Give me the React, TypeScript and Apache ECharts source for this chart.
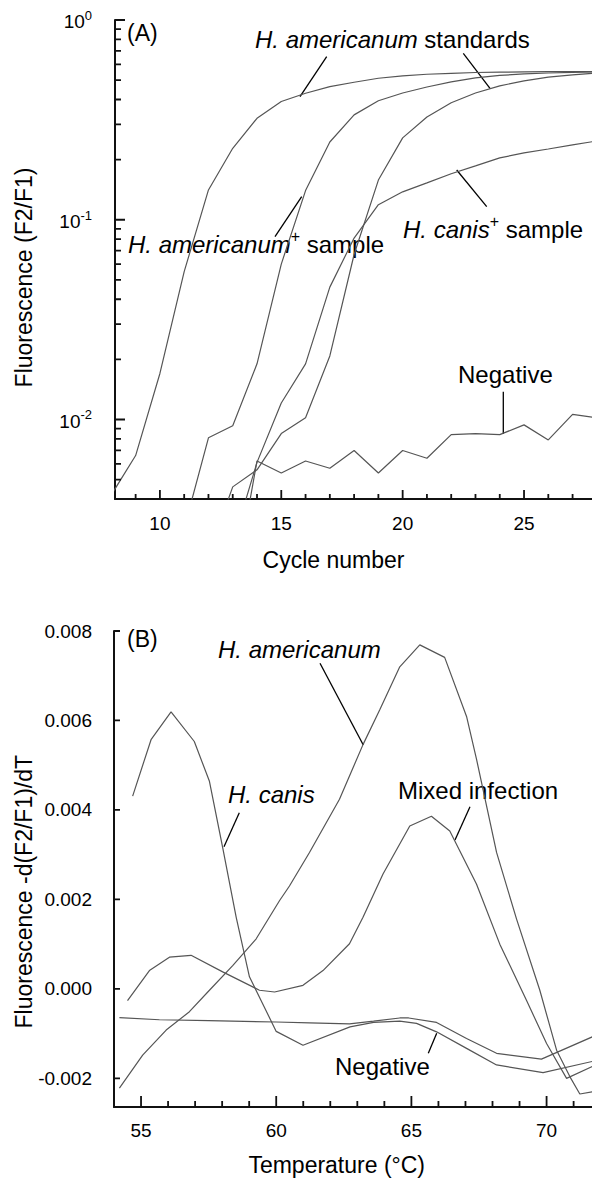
import React, { useEffect, useRef } from "react";
import * as echarts from "echarts";

const FONT = "'Liberation Sans', Arial, Helvetica, sans-serif";

// ---------- Panel A: amplification curves ----------
const cycles = [8, 9, 10, 11, 12, 13, 14, 15, 16, 17, 18, 19, 20, 21, 22, 23, 24, 25, 26, 27, 28];
const standardEarly = [0.0042, 0.0066, 0.017, 0.055, 0.141, 0.228, 0.322, 0.391, 0.43, 0.464, 0.488, 0.511, 0.525, 0.535, 0.541, 0.546, 0.548, 0.55, 0.551, 0.552, 0.552];
const americanumSample = [null, null, null, 0.00285, 0.0081, 0.0093, 0.019, 0.06, 0.14, 0.245, 0.335, 0.394, 0.431, 0.462, 0.49, 0.513, 0.528, 0.537, 0.543, 0.547, 0.55];
const standardLate = [null, null, null, null, 0.0021, 0.0046, 0.0056, 0.0085, 0.0102, 0.0208, 0.067, 0.158, 0.257, 0.327, 0.385, 0.431, 0.468, 0.496, 0.518, 0.531, 0.543];
const canisSample = [null, null, null, null, null, 0.0024, 0.0061, 0.0121, 0.019, 0.046, 0.081, 0.119, 0.138, 0.153, 0.17, 0.186, 0.204, 0.216, 0.226, 0.237, 0.248];
const negativeA = [null, null, null, null, null, 0.0013, 0.0062, 0.0054, 0.0062, 0.0057, 0.007, 0.0054, 0.007, 0.0064, 0.0084, 0.0085, 0.0084, 0.0094, 0.0079, 0.0106, 0.0102];
const xTicksA = [10, 15, 20, 25];
const xMinorTicksA = [9, 11, 12, 13, 14, 16, 17, 18, 19, 21, 22, 23, 24, 26, 27];
const yTicksA = [0.01, 0.1, 1];
const yMinorTicksA = [0.005, 0.006, 0.007, 0.008, 0.009, 0.02, 0.03, 0.04, 0.05, 0.06, 0.07, 0.08, 0.09, 0.2, 0.3, 0.4, 0.5, 0.6, 0.7, 0.8, 0.9];

// ---------- Panel B: melting curves ----------
const amerT = [54.2, 55.06, 55.93, 56.79, 57.53, 58.39, 59.26, 60.12, 60.49, 61.23, 62.34, 63.21, 63.83, 64.57, 65.31, 66.23, 67.04, 67.41, 68.15, 68.89, 69.75, 70.37, 70.86, 71.23, 71.7];
const amerV = [-0.00222, -0.00148, -0.00092, -0.00051, -0.00003, 0.00052, 0.00112, 0.00197, 0.0023, 0.00305, 0.00424, 0.00546, 0.00624, 0.0072, 0.00769, 0.00741, 0.00609, 0.00513, 0.00305, 0.00156, -0.00003, -0.00137, -0.00196, -0.00235, -0.0023];
const canisT = [54.69, 55.37, 56.11, 56.97, 57.53, 58.02, 58.52, 59.01, 60.0, 60.99, 62.73, 63.6, 64.57, 65.19, 65.93, 67.04, 68.15, 69.87, 71.7];
const canisV = [0.00431, 0.00557, 0.00619, 0.00553, 0.00464, 0.00316, 0.0016, 0.00027, -0.00095, -0.00126, -0.00085, -0.00075, -0.00072, -0.00077, -0.00096, -0.00133, -0.0017, -0.00187, -0.00162];
const mixedT = [54.5, 55.31, 56.05, 56.85, 58.02, 59.38, 59.94, 60.99, 61.73, 62.71, 63.21, 63.95, 64.94, 65.74, 66.42, 67.41, 68.27, 69.26, 70.0, 70.74, 71.7];
const mixedV = [-0.00026, 0.00041, 0.00071, 0.00075, 0.00038, -0.00003, -0.00007, 0.00008, 0.00041, 0.00101, 0.0016, 0.00257, 0.00364, 0.00386, 0.00353, 0.00234, 0.001, -0.00026, -0.00122, -0.002, -0.00173];
const negT = [54.2, 55.68, 57.5, 60.0, 61.23, 62.71, 63.6, 64.57, 64.9, 65.93, 67.04, 68.15, 69.81, 71.7];
const negV = [-0.00064, -0.00069, -0.00071, -0.00074, -0.00076, -0.00078, -0.00072, -0.00065, -0.00065, -0.00075, -0.00111, -0.00144, -0.00157, -0.00107];
const xTicksB = [55, 60, 65, 70];
const xMinorTicksB = [56, 57, 58, 59, 61, 62, 63, 64, 66, 67, 68, 69, 71];
const yTicksB = [-0.002, 0, 0.002, 0.004, 0.006, 0.008];

// axis ranges and grid boxes
const A_X = [8.15, 27.8];
const A_Y = [0.004, 1];
const B_X = [54, 71.68];
const B_Y = [-0.00264, 0.008];
const GRID_A = { left: 115, top: 20, width: 477, height: 479 };
const GRID_B = { left: 114, top: 631, width: 478, height: 476 };

const near = (a: number, b: number, eps: number) => Math.abs(a - b) < eps;

const LINE_COLOR = "#555";
const AXIS_COLOR = "#111";

// pixel length -> data-space length (for inward tick marks)
const pxA_x = GRID_A.width / (A_X[1] - A_X[0]);
const pxA_logy = GRID_A.height / (Math.log10(A_Y[1]) - Math.log10(A_Y[0]));
const pxB_x = GRID_B.width / (B_X[1] - B_X[0]);
const pxB_y = GRID_B.height / (B_Y[1] - B_Y[0]);

function tickData(): { a: any[]; b: any[] } {
  const gap = ["-", "-"];
  const a: any[] = [];
  const b: any[] = [];
  const ax = (v: number, len: number) => a.push([v, A_Y[0]], [v, A_Y[0] * Math.pow(10, len / pxA_logy)], gap);
  const ay = (v: number, len: number) => a.push([A_X[0], v], [A_X[0] + len / pxA_x, v], gap);
  const bx = (v: number, len: number) => b.push([v, B_Y[0]], [v, B_Y[0] + len / pxB_y], gap);
  const by = (v: number, len: number) => b.push([B_X[0], v], [B_X[0] + len / pxB_x, v], gap);
  xTicksA.forEach((v) => ax(v, 9));
  xMinorTicksA.forEach((v) => ax(v, 5));
  yTicksA.forEach((v) => ay(v, 10));
  yMinorTicksA.forEach((v) => ay(v, 6));
  xTicksB.forEach((v) => bx(v, 11));
  xMinorTicksB.forEach((v) => bx(v, 6));
  yTicksB.forEach((v) => by(v, 6));
  return { a, b };
}

function buildOption(): any {
  const seriesA = (arr: (number | null)[]) =>
    cycles.map((c, i) => [c, arr[i]]).filter((p) => p[1] !== null);
  const seriesB = (t: number[], v: number[]) => t.map((x, i) => [x, v[i]]);
  const lineSeries = (data: any[], gridIdx: number) => ({
    type: "line",
    xAxisIndex: gridIdx,
    yAxisIndex: gridIdx,
    data,
    symbol: "none",
    clip: true,
    lineStyle: { color: LINE_COLOR, width: 1.2 },
  });
  const tickSeries = (data: any[], gridIdx: number) => ({
    type: "line",
    xAxisIndex: gridIdx,
    yAxisIndex: gridIdx,
    data,
    symbol: "none",
    clip: false,
    connectNulls: false,
    z: 5,
    lineStyle: { color: AXIS_COLOR, width: 1.8, cap: "butt" },
  });
  const axisCommon = () => ({
    axisLine: { show: true, onZero: false, lineStyle: { color: AXIS_COLOR, width: 2 } },
    axisTick: { show: false },
    splitLine: { show: false },
  });
  const td = tickData();
  return {
    animation: false,
    backgroundColor: "#fff",
    textStyle: { fontFamily: FONT },
    grid: [
      { ...GRID_A, containLabel: false, outerBoundsMode: "none" },
      { ...GRID_B, containLabel: false, outerBoundsMode: "none" },
    ],
    xAxis: [
      {
        ...axisCommon(),
        gridIndex: 0,
        type: "value",
        min: A_X[0],
        max: A_X[1],
        splitNumber: 4,
        axisLabel: {
          margin: 15,
          fontSize: 19,
          color: "#000",
          fontFamily: FONT,
          formatter: (v: number) => (xTicksA.some((t) => near(t, v, 1e-6)) ? String(v) : ""),
        },
      },
      {
        ...axisCommon(),
        gridIndex: 1,
        type: "value",
        min: B_X[0],
        max: B_X[1],
        splitNumber: 4,
        axisLabel: {
          margin: 14,
          fontSize: 19,
          color: "#000",
          fontFamily: FONT,
          formatter: (v: number) => (xTicksB.some((t) => near(t, v, 1e-6)) ? String(v) : ""),
        },
      },
    ],
    yAxis: [
      {
        ...axisCommon(),
        gridIndex: 0,
        type: "log",
        logBase: 10,
        min: A_Y[0],
        max: A_Y[1],
        axisLabel: {
          margin: 23,
          color: "#000",
          formatter: (v: number) => {
            const hit = yTicksA.find((t) => near(Math.log10(t), Math.log10(v), 1e-6));
            if (hit === undefined) return "";
            return `{b|10}{s|${Math.round(Math.log10(hit))}}`;
          },
          rich: {
            b: { fontSize: 19, fontFamily: FONT, color: "#000", lineHeight: 22.5, verticalAlign: "bottom" },
            s: { fontSize: 13, fontFamily: FONT, color: "#000", verticalAlign: "top" },
          },
        },
      },
      {
        ...axisCommon(),
        gridIndex: 1,
        type: "value",
        min: B_Y[0],
        max: B_Y[1],
        splitNumber: 5,
        axisLabel: {
          margin: 22,
          fontSize: 19,
          color: "#000",
          fontFamily: FONT,
          formatter: (v: number) => {
            const hit = yTicksB.find((t) => near(t, v, 1e-9));
            return hit === undefined ? "" : hit.toFixed(3);
          },
        },
      },
    ],
    series: [
      lineSeries(seriesA(standardEarly), 0),
      lineSeries(seriesA(americanumSample), 0),
      lineSeries(seriesA(standardLate), 0),
      lineSeries(seriesA(canisSample), 0),
      lineSeries(seriesA(negativeA), 0),
      lineSeries(seriesB(amerT, amerV), 1),
      lineSeries(seriesB(canisT, canisV), 1),
      lineSeries(seriesB(mixedT, mixedV), 1),
      lineSeries(seriesB(negT, negV), 1),
      tickSeries(td.a, 0),
      tickSeries(td.b, 1),
    ],
  };
}

function buildAnnotations(): any[] {
  const txt = (x: number, y: number, text: string, size: number, extra: any = {}, rotation = 0) => ({
    type: "text",
    x,
    y,
    rotation,
    style: {
      text,
      fill: "#000",
      fontSize: size,
      fontFamily: FONT,
      align: "left",
      verticalAlign: "middle",
      ...extra,
    },
  });
  const rich = () => ({
    i: { fontSize: 24, fontFamily: FONT, fontStyle: "italic", fill: "#000", lineHeight: 28, verticalAlign: "bottom" },
    n: { fontSize: 24, fontFamily: FONT, fill: "#000", lineHeight: 28, verticalAlign: "bottom" },
    s: { fontSize: 16, fontFamily: FONT, fill: "#000", verticalAlign: "top" },
  });
  const seg = (x1: number, y1: number, x2: number, y2: number) => ({
    type: "line",
    shape: { x1, y1, x2, y2 },
    style: { stroke: "#000", lineWidth: 1.3 },
  });
  return [
    // Panel A
    txt(127, 33, "(A)", 23),
    txt(255, 37.5, "{i|H. americanum}{n| standards}", 24, { rich: rich() }),
    seg(326.7, 56.7, 300, 96.7),
    seg(463.3, 53.3, 490, 88.3),
    txt(128, 242.5, "{i|H. americanum}{s|+}{n| sample}", 24, { rich: rich() }),
    seg(275, 236.7, 301.7, 196.7),
    txt(403, 227, "{i|H. canis}{s|+}{n| sample}", 24, { rich: rich() }),
    seg(486.7, 206.7, 456.7, 170),
    txt(458, 374.5, "Negative", 24),
    seg(503.3, 391.7, 503.3, 434),
    txt(24, 277.5, "Fluorescence (F2/F1)", 23, { align: "center" }, Math.PI / 2),
    txt(333.5, 559.5, "Cycle number", 23, { align: "center" }),
    // Panel B
    txt(127, 639, "(B)", 23),
    txt(218, 649, "H. americanum", 24, { fontStyle: "italic" }),
    seg(320, 663.3, 363.3, 745),
    txt(228, 794.5, "H. canis", 24, { fontStyle: "italic" }),
    seg(239.3, 812.7, 224, 846.7),
    txt(398, 790.5, "Mixed infection", 24),
    seg(470, 806.7, 455, 840),
    txt(335, 1066, "Negative", 24),
    seg(428.3, 1053.3, 436.7, 1033.3),
    txt(24, 891.7, "Fluorescence -d(F2/F1)/dT", 23, { align: "center" }, Math.PI / 2),
    txt(336.7, 1165, "Temperature (°C)", 23, { align: "center" }),
  ];
}

export default function App() {
  const ref = useRef<HTMLDivElement>(null);
  useEffect(() => {
    document.body.style.margin = "0";
    const chart = echarts.init(ref.current!, null, { renderer: "svg", width: 592, height: 1178 });
    const option = buildOption();
    option.graphic = { elements: buildAnnotations() };
    chart.setOption(option);
    return () => chart.dispose();
  }, []);
  return <div ref={ref} style={{ width: 592, height: 1178, background: "#fff" }} />;
}
